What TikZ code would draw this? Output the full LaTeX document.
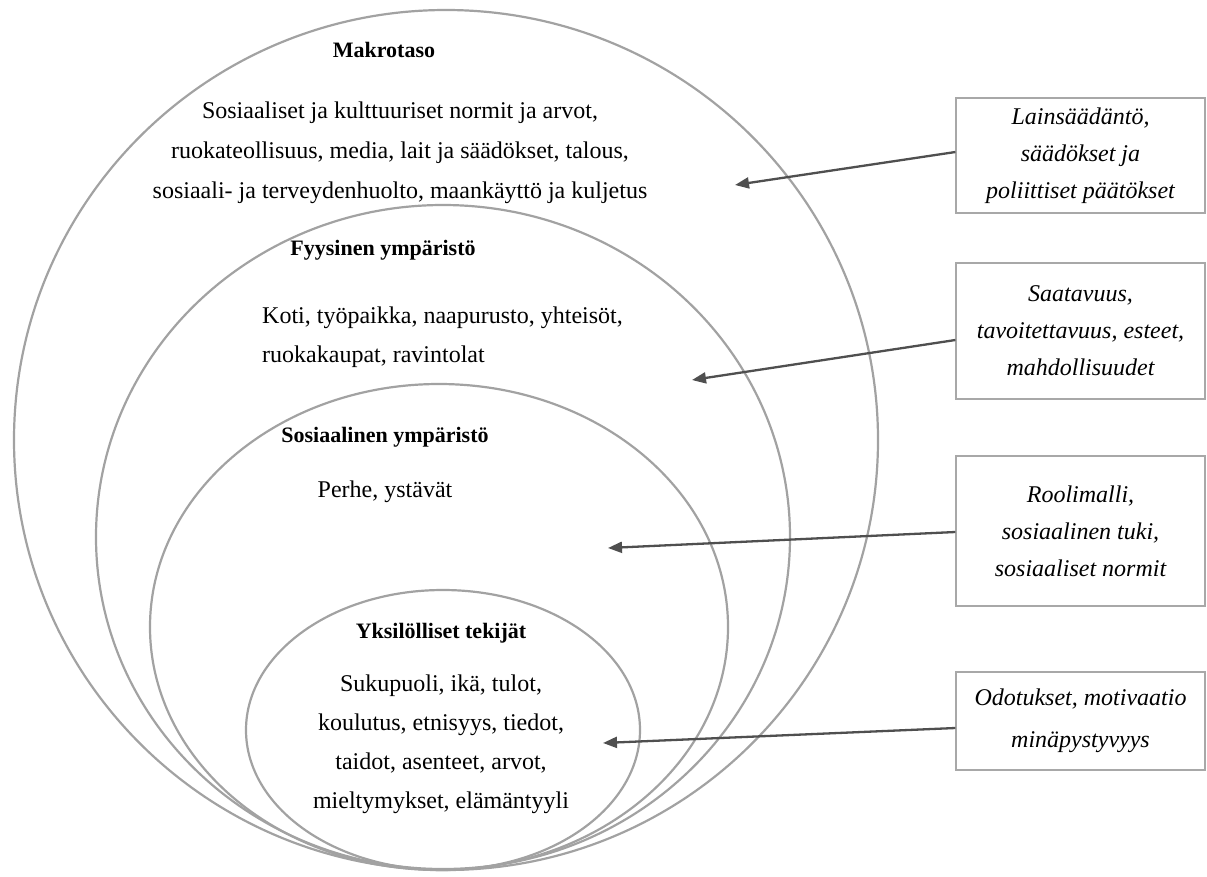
\documentclass[tikz,border=0pt]{standalone}
\usepackage{fontspec}
\setmainfont{Liberation Serif}
\usepackage[]{tikz}
\usetikzlibrary{positioning,shapes,calc}
\usetikzlibrary{arrows.meta}
\definecolor{ringGray}{HTML}{A2A2A2}
\definecolor{boxGray}{HTML}{A8A8A8}
\definecolor{arrowGray}{HTML}{4F4F4F}
\tikzstyle{ring}       =[ellipse, draw=ringGray, line width=2.2pt, inner sep=0pt]
\tikzstyle{levelTitle} =[font=\fontsize{22}{26}\selectfont\bfseries]
\tikzstyle{levelText}  =[align=center, inner sep=0pt]
\tikzstyle{boxItalic}  =[rectangle, draw=boxGray, line width=1.2pt, minimum width=249pt,
                         align=center, font=\fontsize{24}{37}\selectfont\itshape]
\tikzstyle{influence}  =[draw=arrowGray, line width=2.3pt, -{Triangle[length=14pt,width=11pt]}]

\begin{document}
\begin{tikzpicture}[x=1pt,y=-1pt]
      \useasboundingbox (0,0) rectangle (1207,876);
      % nested levels
      \node[ring] (makro) [minimum width=864pt, minimum height=860pt] at (446,440) {};
      \node[ring] (fyys)  [minimum width=694pt, minimum height=664pt] at (443,537) {};
      \node[ring] (sos)   [minimum width=578pt, minimum height=486pt] at (439,627) {};
      \node[ring] (yks)   [minimum width=394pt, minimum height=280pt] at (443,730) {};
      % texts inside the levels
      \node[levelTitle] (makroT) [] at (384,50) {Makrotaso};
      \node[levelText] (makroB) [font=\fontsize{24}{40}\selectfont] at (400,153)
        {Sosiaaliset ja kulttuuriset normit ja arvot,\\
         ruokateollisuus, media, lait ja säädökset, talous,\\
         sosiaali- ja terveydenhuolto, maankäyttö ja kuljetus};
      \node[levelTitle] (fyysT) [] at (383,250) {Fyysinen ympäristö};
      \node[levelText] (fyysB) [align=left, anchor=west, font=\fontsize{24}{39}\selectfont] at (262,337)
        {Koti, työpaikka, naapurusto, yhteisöt,\\
         ruokakaupat, ravintolat};
      \node[levelTitle] (sosT) [] at (385,437) {Sosiaalinen ympäristö};
      \node[levelText] (sosB) [font=\fontsize{24}{28}\selectfont] at (385,492) {Perhe, ystävät};
      \node[levelTitle] (yksT) [] at (441,633) {Yksilölliset tekijät};
      \node[levelText] (yksB) [font=\fontsize{24}{39}\selectfont] at (441,744)
        {Sukupuoli, ikä, tulot,\\
         koulutus, etnisyys, tiedot,\\
         taidot, asenteet, arvot,\\
         mieltymykset, elämäntyyli};
      % influences
      \node[boxItalic] (lait)   [minimum height=115pt] at (1080.5,155.5)
        {Lainsäädäntö,\\ säädökset ja\\ poliittiset päätökset};
      \node[boxItalic] (saat)   [minimum height=136pt] at (1080.5,331)
        {Saatavuus,\\ tavoitettavuus, esteet,\\ mahdollisuudet};
      \node[boxItalic] (rooli)  [minimum height=150pt] at (1080.5,531)
        {Roolimalli,\\ sosiaalinen tuki,\\ sosiaaliset normit};
      \node[boxItalic] (odot)   [minimum height=98pt, font=\fontsize{24}{42}\selectfont\itshape] at (1080.5,721)
        {Odotukset, motivaatio\\ minäpystyvyys};
      \coordinate (tMakro) at (735,185);
      \coordinate (tFyys)  at (692,380);
      \coordinate (tSos)   at (608,548);
      \coordinate (tYks)   at (603,743);
      \draw[influence] ([yshift=3.5pt]lait.west) -- (tMakro);
      \draw[influence] ([yshift=-9pt]saat.west) -- (tFyys);
      \draw[influence] ([yshift=-1pt]rooli.west) -- (tSos);
      \draw[influence] ([yshift=-7pt]odot.west) -- (tYks);
    \end{tikzpicture}
\end{document}
